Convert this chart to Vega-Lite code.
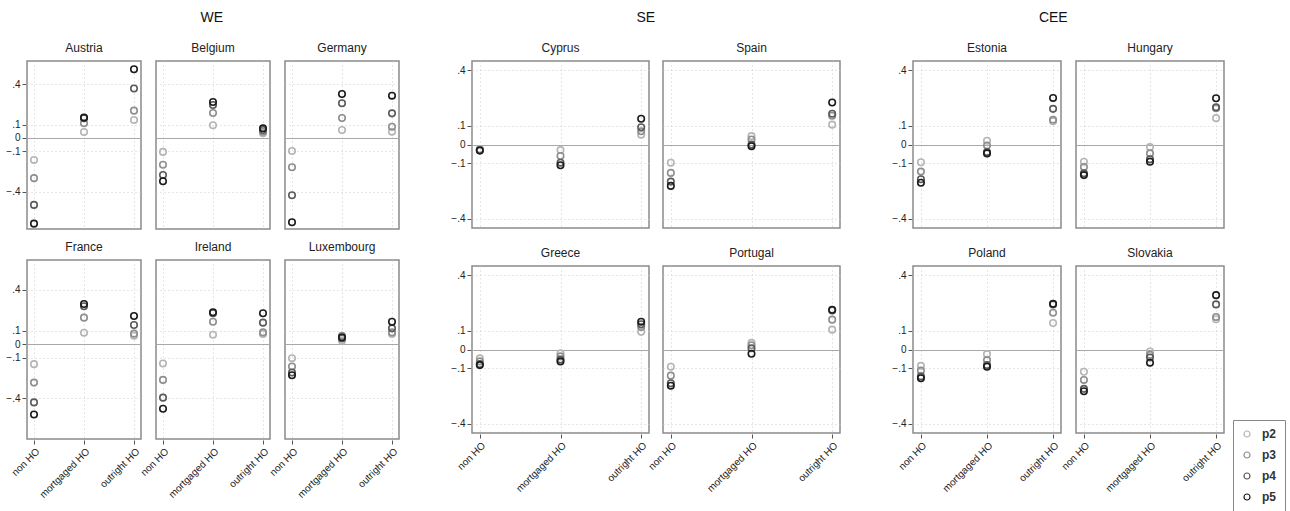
{
  "$schema": "https://vega.github.io/schema/vega-lite/v6.json",
  "background": "white",
  "padding": {"left": 5, "top": 11, "right": 5, "bottom": 5},
  "data": {"values": [
    {"c":"Austria","t":"non HO","p":"p2","v":-0.164},{"c":"Austria","t":"non HO","p":"p3","v":-0.30},{"c":"Austria","t":"non HO","p":"p4","v":-0.50},{"c":"Austria","t":"non HO","p":"p5","v":-0.64},
    {"c":"Austria","t":"mortgaged HO","p":"p2","v":0.045},{"c":"Austria","t":"mortgaged HO","p":"p3","v":0.11},{"c":"Austria","t":"mortgaged HO","p":"p4","v":0.147},{"c":"Austria","t":"mortgaged HO","p":"p5","v":0.152},
    {"c":"Austria","t":"outright HO","p":"p2","v":0.134},{"c":"Austria","t":"outright HO","p":"p3","v":0.204},{"c":"Austria","t":"outright HO","p":"p4","v":0.37},{"c":"Austria","t":"outright HO","p":"p5","v":0.513},
    {"c":"Belgium","t":"non HO","p":"p2","v":-0.104},{"c":"Belgium","t":"non HO","p":"p3","v":-0.20},{"c":"Belgium","t":"non HO","p":"p4","v":-0.276},{"c":"Belgium","t":"non HO","p":"p5","v":-0.323},
    {"c":"Belgium","t":"mortgaged HO","p":"p2","v":0.095},{"c":"Belgium","t":"mortgaged HO","p":"p3","v":0.187},{"c":"Belgium","t":"mortgaged HO","p":"p4","v":0.246},{"c":"Belgium","t":"mortgaged HO","p":"p5","v":0.269},
    {"c":"Belgium","t":"outright HO","p":"p2","v":0.035},{"c":"Belgium","t":"outright HO","p":"p3","v":0.047},{"c":"Belgium","t":"outright HO","p":"p4","v":0.06},{"c":"Belgium","t":"outright HO","p":"p5","v":0.072},
    {"c":"Germany","t":"non HO","p":"p2","v":-0.097},{"c":"Germany","t":"non HO","p":"p3","v":-0.219},{"c":"Germany","t":"non HO","p":"p4","v":-0.428},{"c":"Germany","t":"non HO","p":"p5","v":-0.63},
    {"c":"Germany","t":"mortgaged HO","p":"p2","v":0.06},{"c":"Germany","t":"mortgaged HO","p":"p3","v":0.149},{"c":"Germany","t":"mortgaged HO","p":"p4","v":0.259},{"c":"Germany","t":"mortgaged HO","p":"p5","v":0.328},
    {"c":"Germany","t":"outright HO","p":"p2","v":0.047},{"c":"Germany","t":"outright HO","p":"p3","v":0.084},{"c":"Germany","t":"outright HO","p":"p4","v":0.184},{"c":"Germany","t":"outright HO","p":"p5","v":0.316},
    {"c":"France","t":"non HO","p":"p2","v":-0.148},{"c":"France","t":"non HO","p":"p3","v":-0.284},{"c":"France","t":"non HO","p":"p4","v":-0.43},{"c":"France","t":"non HO","p":"p5","v":-0.519},
    {"c":"France","t":"mortgaged HO","p":"p2","v":0.084},{"c":"France","t":"mortgaged HO","p":"p3","v":0.195},{"c":"France","t":"mortgaged HO","p":"p4","v":0.279},{"c":"France","t":"mortgaged HO","p":"p5","v":0.296},
    {"c":"France","t":"outright HO","p":"p2","v":0.062},{"c":"France","t":"outright HO","p":"p3","v":0.077},{"c":"France","t":"outright HO","p":"p4","v":0.141},{"c":"France","t":"outright HO","p":"p5","v":0.207},
    {"c":"Ireland","t":"non HO","p":"p2","v":-0.143},{"c":"Ireland","t":"non HO","p":"p3","v":-0.264},{"c":"Ireland","t":"non HO","p":"p4","v":-0.395},{"c":"Ireland","t":"non HO","p":"p5","v":-0.477},
    {"c":"Ireland","t":"mortgaged HO","p":"p2","v":0.069},{"c":"Ireland","t":"mortgaged HO","p":"p3","v":0.165},{"c":"Ireland","t":"mortgaged HO","p":"p4","v":0.227},{"c":"Ireland","t":"mortgaged HO","p":"p5","v":0.235},
    {"c":"Ireland","t":"outright HO","p":"p2","v":0.074},{"c":"Ireland","t":"outright HO","p":"p3","v":0.086},{"c":"Ireland","t":"outright HO","p":"p4","v":0.158},{"c":"Ireland","t":"outright HO","p":"p5","v":0.227},
    {"c":"Luxembourg","t":"non HO","p":"p2","v":-0.104},{"c":"Luxembourg","t":"non HO","p":"p3","v":-0.165},{"c":"Luxembourg","t":"non HO","p":"p4","v":-0.21},{"c":"Luxembourg","t":"non HO","p":"p5","v":-0.23},
    {"c":"Luxembourg","t":"mortgaged HO","p":"p2","v":0.025},{"c":"Luxembourg","t":"mortgaged HO","p":"p3","v":0.062},{"c":"Luxembourg","t":"mortgaged HO","p":"p4","v":0.042},{"c":"Luxembourg","t":"mortgaged HO","p":"p5","v":0.05},
    {"c":"Luxembourg","t":"outright HO","p":"p2","v":0.074},{"c":"Luxembourg","t":"outright HO","p":"p3","v":0.086},{"c":"Luxembourg","t":"outright HO","p":"p4","v":0.116},{"c":"Luxembourg","t":"outright HO","p":"p5","v":0.165},
    {"c":"Cyprus","t":"non HO","p":"p2","v":-0.025},{"c":"Cyprus","t":"non HO","p":"p3","v":-0.028},{"c":"Cyprus","t":"non HO","p":"p4","v":-0.031},{"c":"Cyprus","t":"non HO","p":"p5","v":-0.033},
    {"c":"Cyprus","t":"mortgaged HO","p":"p2","v":-0.03},{"c":"Cyprus","t":"mortgaged HO","p":"p3","v":-0.062},{"c":"Cyprus","t":"mortgaged HO","p":"p4","v":-0.098},{"c":"Cyprus","t":"mortgaged HO","p":"p5","v":-0.112},
    {"c":"Cyprus","t":"outright HO","p":"p2","v":0.053},{"c":"Cyprus","t":"outright HO","p":"p3","v":0.071},{"c":"Cyprus","t":"outright HO","p":"p4","v":0.093},{"c":"Cyprus","t":"outright HO","p":"p5","v":0.139},
    {"c":"Spain","t":"non HO","p":"p2","v":-0.098},{"c":"Spain","t":"non HO","p":"p3","v":-0.153},{"c":"Spain","t":"non HO","p":"p4","v":-0.20},{"c":"Spain","t":"non HO","p":"p5","v":-0.223},
    {"c":"Spain","t":"mortgaged HO","p":"p2","v":0.045},{"c":"Spain","t":"mortgaged HO","p":"p3","v":0.027},{"c":"Spain","t":"mortgaged HO","p":"p4","v":0.0},{"c":"Spain","t":"mortgaged HO","p":"p5","v":-0.009},
    {"c":"Spain","t":"outright HO","p":"p2","v":0.107},{"c":"Spain","t":"outright HO","p":"p3","v":0.155},{"c":"Spain","t":"outright HO","p":"p4","v":0.166},{"c":"Spain","t":"outright HO","p":"p5","v":0.226},
    {"c":"Greece","t":"non HO","p":"p2","v":-0.048},{"c":"Greece","t":"non HO","p":"p3","v":-0.064},{"c":"Greece","t":"non HO","p":"p4","v":-0.079},{"c":"Greece","t":"non HO","p":"p5","v":-0.084},
    {"c":"Greece","t":"mortgaged HO","p":"p2","v":-0.021},{"c":"Greece","t":"mortgaged HO","p":"p3","v":-0.037},{"c":"Greece","t":"mortgaged HO","p":"p4","v":-0.054},{"c":"Greece","t":"mortgaged HO","p":"p5","v":-0.064},
    {"c":"Greece","t":"outright HO","p":"p2","v":0.095},{"c":"Greece","t":"outright HO","p":"p3","v":0.121},{"c":"Greece","t":"outright HO","p":"p4","v":0.136},{"c":"Greece","t":"outright HO","p":"p5","v":0.15},
    {"c":"Portugal","t":"non HO","p":"p2","v":-0.093},{"c":"Portugal","t":"non HO","p":"p3","v":-0.141},{"c":"Portugal","t":"non HO","p":"p4","v":-0.182},{"c":"Portugal","t":"non HO","p":"p5","v":-0.195},
    {"c":"Portugal","t":"mortgaged HO","p":"p2","v":0.036},{"c":"Portugal","t":"mortgaged HO","p":"p3","v":0.023},{"c":"Portugal","t":"mortgaged HO","p":"p4","v":0.007},{"c":"Portugal","t":"mortgaged HO","p":"p5","v":-0.023},
    {"c":"Portugal","t":"outright HO","p":"p2","v":0.107},{"c":"Portugal","t":"outright HO","p":"p3","v":0.161},{"c":"Portugal","t":"outright HO","p":"p4","v":0.21},{"c":"Portugal","t":"outright HO","p":"p5","v":0.214},
    {"c":"Estonia","t":"non HO","p":"p2","v":-0.096},{"c":"Estonia","t":"non HO","p":"p3","v":-0.146},{"c":"Estonia","t":"non HO","p":"p4","v":-0.187},{"c":"Estonia","t":"non HO","p":"p5","v":-0.206},
    {"c":"Estonia","t":"mortgaged HO","p":"p2","v":0.02},{"c":"Estonia","t":"mortgaged HO","p":"p3","v":-0.005},{"c":"Estonia","t":"mortgaged HO","p":"p4","v":-0.041},{"c":"Estonia","t":"mortgaged HO","p":"p5","v":-0.048},
    {"c":"Estonia","t":"outright HO","p":"p2","v":0.125},{"c":"Estonia","t":"outright HO","p":"p3","v":0.133},{"c":"Estonia","t":"outright HO","p":"p4","v":0.192},{"c":"Estonia","t":"outright HO","p":"p5","v":0.251},
    {"c":"Hungary","t":"non HO","p":"p2","v":-0.093},{"c":"Hungary","t":"non HO","p":"p3","v":-0.121},{"c":"Hungary","t":"non HO","p":"p4","v":-0.155},{"c":"Hungary","t":"non HO","p":"p5","v":-0.165},
    {"c":"Hungary","t":"mortgaged HO","p":"p2","v":-0.014},{"c":"Hungary","t":"mortgaged HO","p":"p3","v":-0.048},{"c":"Hungary","t":"mortgaged HO","p":"p4","v":-0.08},{"c":"Hungary","t":"mortgaged HO","p":"p5","v":-0.093},
    {"c":"Hungary","t":"outright HO","p":"p2","v":0.142},{"c":"Hungary","t":"outright HO","p":"p3","v":0.195},{"c":"Hungary","t":"outright HO","p":"p4","v":0.201},{"c":"Hungary","t":"outright HO","p":"p5","v":0.249},
    {"c":"Poland","t":"non HO","p":"p2","v":-0.088},{"c":"Poland","t":"non HO","p":"p3","v":-0.114},{"c":"Poland","t":"non HO","p":"p4","v":-0.145},{"c":"Poland","t":"non HO","p":"p5","v":-0.155},
    {"c":"Poland","t":"mortgaged HO","p":"p2","v":-0.025},{"c":"Poland","t":"mortgaged HO","p":"p3","v":-0.057},{"c":"Poland","t":"mortgaged HO","p":"p4","v":-0.084},{"c":"Poland","t":"mortgaged HO","p":"p5","v":-0.093},
    {"c":"Poland","t":"outright HO","p":"p2","v":0.143},{"c":"Poland","t":"outright HO","p":"p3","v":0.198},{"c":"Poland","t":"outright HO","p":"p4","v":0.243},{"c":"Poland","t":"outright HO","p":"p5","v":0.246},
    {"c":"Slovakia","t":"non HO","p":"p2","v":-0.12},{"c":"Slovakia","t":"non HO","p":"p3","v":-0.164},{"c":"Slovakia","t":"non HO","p":"p4","v":-0.212},{"c":"Slovakia","t":"non HO","p":"p5","v":-0.225},
    {"c":"Slovakia","t":"mortgaged HO","p":"p2","v":-0.011},{"c":"Slovakia","t":"mortgaged HO","p":"p3","v":-0.029},{"c":"Slovakia","t":"mortgaged HO","p":"p4","v":-0.043},{"c":"Slovakia","t":"mortgaged HO","p":"p5","v":-0.071},
    {"c":"Slovakia","t":"outright HO","p":"p2","v":0.163},{"c":"Slovakia","t":"outright HO","p":"p3","v":0.175},{"c":"Slovakia","t":"outright HO","p":"p4","v":0.243},{"c":"Slovakia","t":"outright HO","p":"p5","v":0.293}
  ]},
  "spacing": 50,
  "resolve": {"scale": {"x": "independent", "y": "independent", "color": "shared"}},
  "hconcat": [
    {
      "title": {"text": "WE", "anchor": "middle", "dx": 9},
      "spacing": 10,
      "resolve": {"scale": {"x": "independent", "y": "independent"}},
      "vconcat": [
        {
          "transform": [{"filter": {"field": "c", "oneOf": ["Austria", "Belgium", "Germany"]}}],
          "facet": {"column": {"field": "c", "type": "nominal", "sort": ["Austria", "Belgium", "Germany"], "header": {"title": null}}},
          "spacing": 13,
          "spec": {
            "width": 114, "height": 168,
            "mark": {"type": "point", "shape": "circle", "filled": false, "size": 42, "strokeWidth": 1.6, "opacity": 1},
            "encoding": {
              "x": {"field": "t", "type": "nominal", "sort": ["non HO", "mortgaged HO", "outright HO"], "scale": {"type": "point", "padding": 0.14}, "axis": {"title": null, "labels": false, "ticks": false}},
              "y": {"field": "v", "type": "quantitative", "scale": {"domain": [-0.68, 0.575], "nice": false, "zero": false}, "axis": {"title": null, "values": [-0.4, -0.1, 0, 0.1, 0.4], "labelExpr": "datum.value == 0 ? '0' : replace(format(datum.value, '.1f'), '0.', '.')", "gridDash": {"condition": {"test": "datum.value === 0", "value": []}, "value": [1, 3]}, "gridColor": {"condition": {"test": "datum.value === 0", "value": "#a8a8a8"}, "value": "#cccccc"}}},
              "color": {"field": "p", "type": "nominal", "scale": {"domain": ["p2", "p3", "p4", "p5"], "range": ["#b5b5b5", "#8e8e8e", "#5a5a5a", "#1c1c1c"]}, "legend": {"title": null, "orient": "none", "legendX": 1206, "legendY": 359}}
            }
          }
        },
        {
          "transform": [{"filter": {"field": "c", "oneOf": ["France", "Ireland", "Luxembourg"]}}],
          "facet": {"column": {"field": "c", "type": "nominal", "sort": ["France", "Ireland", "Luxembourg"], "header": {"title": null}}},
          "spacing": 13,
          "spec": {
            "width": 114, "height": 179,
            "mark": {"type": "point", "shape": "circle", "filled": false, "size": 42, "strokeWidth": 1.6, "opacity": 1},
            "encoding": {
              "x": {"field": "t", "type": "nominal", "sort": ["non HO", "mortgaged HO", "outright HO"], "scale": {"type": "point", "padding": 0.14}, "axis": {"title": null, "labelAngle": -45}},
              "y": {"field": "v", "type": "quantitative", "scale": {"domain": [-0.70, 0.62], "nice": false, "zero": false}, "axis": {"title": null, "values": [-0.4, -0.1, 0, 0.1, 0.4], "labelExpr": "datum.value == 0 ? '0' : replace(format(datum.value, '.1f'), '0.', '.')", "gridDash": {"condition": {"test": "datum.value === 0", "value": []}, "value": [1, 3]}, "gridColor": {"condition": {"test": "datum.value === 0", "value": "#a8a8a8"}, "value": "#cccccc"}}},
              "color": {"field": "p", "type": "nominal", "scale": {"domain": ["p2", "p3", "p4", "p5"], "range": ["#b5b5b5", "#8e8e8e", "#5a5a5a", "#1c1c1c"]}, "legend": {"title": null, "orient": "none", "legendX": 1206, "legendY": 359}}
            }
          }
        }
      ]
    },
    {
      "title": {"text": "SE", "anchor": "middle"},
      "spacing": 18,
      "resolve": {"scale": {"x": "independent", "y": "independent"}},
      "vconcat": [
        {
          "transform": [{"filter": {"field": "c", "oneOf": ["Cyprus", "Spain"]}}],
          "facet": {"column": {"field": "c", "type": "nominal", "sort": ["Cyprus", "Spain"], "header": {"title": null}}},
          "spacing": 12,
          "spec": {
            "width": 177, "height": 167,
            "mark": {"type": "point", "shape": "circle", "filled": false, "size": 42, "strokeWidth": 1.6, "opacity": 1},
            "encoding": {
              "x": {"field": "t", "type": "nominal", "sort": ["non HO", "mortgaged HO", "outright HO"], "scale": {"type": "point", "padding": 0.097}, "axis": {"title": null, "labels": false, "ticks": false}},
              "y": {"field": "v", "type": "quantitative", "scale": {"domain": [-0.45, 0.45], "nice": false, "zero": false}, "axis": {"title": null, "values": [-0.4, -0.1, 0, 0.1, 0.4], "labelExpr": "datum.value == 0 ? '0' : replace(format(datum.value, '.1f'), '0.', '.')", "gridDash": {"condition": {"test": "datum.value === 0", "value": []}, "value": [1, 3]}, "gridColor": {"condition": {"test": "datum.value === 0", "value": "#a8a8a8"}, "value": "#cccccc"}}},
              "color": {"field": "p", "type": "nominal", "scale": {"domain": ["p2", "p3", "p4", "p5"], "range": ["#b5b5b5", "#8e8e8e", "#5a5a5a", "#1c1c1c"]}, "legend": {"title": null, "orient": "none", "legendX": 1206, "legendY": 359}}
            }
          }
        },
        {
          "transform": [{"filter": {"field": "c", "oneOf": ["Greece", "Portugal"]}}],
          "facet": {"column": {"field": "c", "type": "nominal", "sort": ["Greece", "Portugal"], "header": {"title": null}}},
          "spacing": 12,
          "spec": {
            "width": 177, "height": 167,
            "mark": {"type": "point", "shape": "circle", "filled": false, "size": 42, "strokeWidth": 1.6, "opacity": 1},
            "encoding": {
              "x": {"field": "t", "type": "nominal", "sort": ["non HO", "mortgaged HO", "outright HO"], "scale": {"type": "point", "padding": 0.097}, "axis": {"title": null, "labelAngle": -45}},
              "y": {"field": "v", "type": "quantitative", "scale": {"domain": [-0.45, 0.45], "nice": false, "zero": false}, "axis": {"title": null, "values": [-0.4, -0.1, 0, 0.1, 0.4], "labelExpr": "datum.value == 0 ? '0' : replace(format(datum.value, '.1f'), '0.', '.')", "gridDash": {"condition": {"test": "datum.value === 0", "value": []}, "value": [1, 3]}, "gridColor": {"condition": {"test": "datum.value === 0", "value": "#a8a8a8"}, "value": "#cccccc"}}},
              "color": {"field": "p", "type": "nominal", "scale": {"domain": ["p2", "p3", "p4", "p5"], "range": ["#b5b5b5", "#8e8e8e", "#5a5a5a", "#1c1c1c"]}, "legend": {"title": null, "orient": "none", "legendX": 1206, "legendY": 359}}
            }
          }
        }
      ]
    },
    {
      "title": {"text": "CEE", "anchor": "middle", "dx": -5},
      "spacing": 18,
      "resolve": {"scale": {"x": "independent", "y": "independent"}},
      "vconcat": [
        {
          "transform": [{"filter": {"field": "c", "oneOf": ["Estonia", "Hungary"]}}],
          "facet": {"column": {"field": "c", "type": "nominal", "sort": ["Estonia", "Hungary"], "header": {"title": null}}},
          "spacing": 13,
          "spec": {
            "width": 148, "height": 167,
            "mark": {"type": "point", "shape": "circle", "filled": false, "size": 42, "strokeWidth": 1.6, "opacity": 1},
            "encoding": {
              "x": {"field": "t", "type": "nominal", "sort": ["non HO", "mortgaged HO", "outright HO"], "scale": {"type": "point", "padding": 0.12}, "axis": {"title": null, "labels": false, "ticks": false}},
              "y": {"field": "v", "type": "quantitative", "scale": {"domain": [-0.45, 0.45], "nice": false, "zero": false}, "axis": {"title": null, "values": [-0.4, -0.1, 0, 0.1, 0.4], "labelExpr": "datum.value == 0 ? '0' : replace(format(datum.value, '.1f'), '0.', '.')", "gridDash": {"condition": {"test": "datum.value === 0", "value": []}, "value": [1, 3]}, "gridColor": {"condition": {"test": "datum.value === 0", "value": "#a8a8a8"}, "value": "#cccccc"}}},
              "color": {"field": "p", "type": "nominal", "scale": {"domain": ["p2", "p3", "p4", "p5"], "range": ["#b5b5b5", "#8e8e8e", "#5a5a5a", "#1c1c1c"]}, "legend": {"title": null, "orient": "none", "legendX": 1206, "legendY": 359}}
            }
          }
        },
        {
          "transform": [{"filter": {"field": "c", "oneOf": ["Poland", "Slovakia"]}}],
          "facet": {"column": {"field": "c", "type": "nominal", "sort": ["Poland", "Slovakia"], "header": {"title": null}}},
          "spacing": 13,
          "spec": {
            "width": 148, "height": 167,
            "mark": {"type": "point", "shape": "circle", "filled": false, "size": 42, "strokeWidth": 1.6, "opacity": 1},
            "encoding": {
              "x": {"field": "t", "type": "nominal", "sort": ["non HO", "mortgaged HO", "outright HO"], "scale": {"type": "point", "padding": 0.12}, "axis": {"title": null, "labelAngle": -45}},
              "y": {"field": "v", "type": "quantitative", "scale": {"domain": [-0.45, 0.45], "nice": false, "zero": false}, "axis": {"title": null, "values": [-0.4, -0.1, 0, 0.1, 0.4], "labelExpr": "datum.value == 0 ? '0' : replace(format(datum.value, '.1f'), '0.', '.')", "gridDash": {"condition": {"test": "datum.value === 0", "value": []}, "value": [1, 3]}, "gridColor": {"condition": {"test": "datum.value === 0", "value": "#a8a8a8"}, "value": "#cccccc"}}},
              "color": {"field": "p", "type": "nominal", "scale": {"domain": ["p2", "p3", "p4", "p5"], "range": ["#b5b5b5", "#8e8e8e", "#5a5a5a", "#1c1c1c"]}, "legend": {"title": null, "orient": "none", "legendX": 1206, "legendY": 359}}
            }
          }
        }
      ]
    }
  ],
  "config": {
    "font": "Liberation Sans",
    "view": {"stroke": "#8a8a8a", "strokeWidth": 1.5},
    "axis": {"labelFont": "Liberation Sans", "labelFontSize": 10, "labelColor": "#222", "domain": false, "tickColor": "#555", "tickSize": 4, "grid": true, "gridColor": "#cccccc", "gridDash": [1, 3], "labelPadding": 2},
    "title": {"font": "Liberation Sans", "fontSize": 14, "fontWeight": "normal", "color": "#111", "offset": 17},
    "header": {"labelFont": "Liberation Sans", "labelFontSize": 12, "labelColor": "#222", "labelPadding": 5},
    "legend": {"strokeColor": "#888", "padding": 8, "rowPadding": 9, "symbolSize": 36, "symbolStrokeWidth": 1.2, "labelFontSize": 12, "labelFontWeight": "bold", "labelOffset": 9, "labelFont": "Liberation Sans", "labelColor": "#333", "fillColor": "#ffffff", "symbolType": "circle"}
  }
}
